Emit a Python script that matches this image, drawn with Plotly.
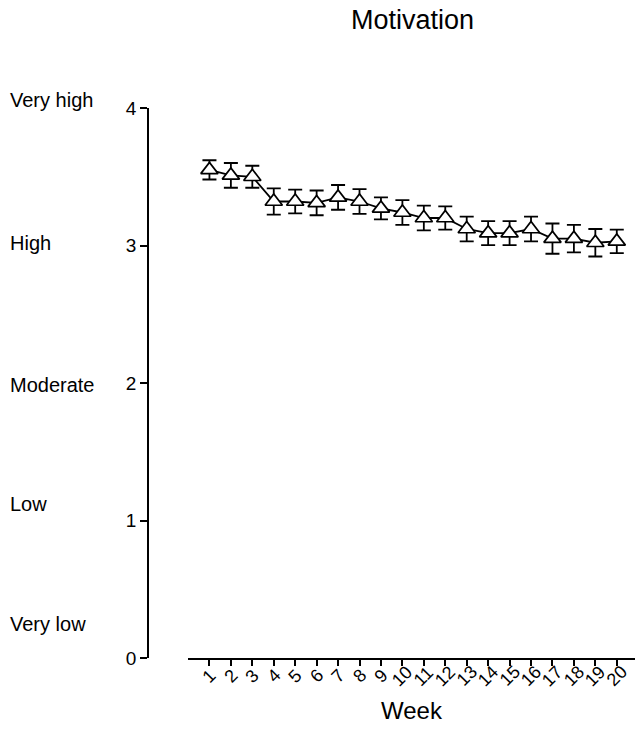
import plotly.graph_objects as go

weeks = list(range(1, 21))
week_labels = [str(w) for w in weeks]
motivation = [3.55, 3.51, 3.50, 3.32, 3.32, 3.31, 3.35, 3.32, 3.27, 3.24,
              3.20, 3.20, 3.12, 3.09, 3.09, 3.12, 3.05, 3.05, 3.02, 3.03]
errors = [0.07, 0.09, 0.08, 0.095, 0.087, 0.09, 0.09, 0.09, 0.08, 0.09,
          0.09, 0.085, 0.09, 0.087, 0.087, 0.09, 0.11, 0.10, 0.10, 0.085]
level_names = ["Very high", "High", "Moderate", "Low", "Very low"]
y_ticks = [0, 1, 2, 3, 4]

FONT = "Liberation Sans, Arial, sans-serif"
W, H = 635, 747
L, R, T, B = 148, 0, 108, 89
PW, PH = W - L - R, H - T - B

# vertical pixel centres of the descriptive labels (layout only)
label_px = [100, 243, 385, 504, 624]

fig = go.Figure()
fig.add_trace(go.Scatter(
    x=weeks, y=motivation,
    mode="lines+markers",
    line=dict(color="black", width=1.8),
    marker=dict(symbol="triangle-up", size=15, color="white",
                line=dict(width=1.7, color="black")),
    error_y=dict(type="data", array=errors, visible=True,
                 color="black", thickness=1.8, width=7),
    showlegend=False,
))

for name, py in zip(level_names, label_px):
    fig.add_annotation(text=name, xref="paper", yref="paper",
                       x=(8 - L) / PW, y=(H - B - py) / PH,
                       xanchor="left", yanchor="middle",
                       showarrow=False, font=dict(family=FONT, size=20, color="black"))

# rotated week labels centred under their ticks
for wk, lab in zip(weeks, week_labels):
    fig.add_annotation(text=lab, xref="x", yref="paper",
                       x=wk, y=(H - B - 676) / PH,
                       xanchor="center", yanchor="middle", textangle=-45,
                       showarrow=False, font=dict(family=FONT, size=18, color="black"))

fig.add_annotation(text="Motivation", xref="paper", yref="paper",
                   x=(412 - L) / PW, y=(H - B - 20) / PH,
                   xanchor="center", yanchor="middle", showarrow=False,
                   font=dict(family=FONT, size=27, color="black"))
fig.add_annotation(text="Week", xref="paper", yref="paper",
                   x=(412 - L) / PW, y=(H - B - 710) / PH,
                   xanchor="center", yanchor="middle", showarrow=False,
                   font=dict(family=FONT, size=24, color="black"))

fig.update_layout(
    width=W, height=H,
    margin=dict(l=L, r=R, t=T, b=B),
    plot_bgcolor="white", paper_bgcolor="white",
    font=dict(family=FONT, color="black"),
    xaxis=dict(
        domain=[40 / PW, 1],
        range=[0, 20.85],
        automargin=False,
        tickmode="array", tickvals=weeks, showticklabels=False,
        ticks="outside", ticklen=6, tickwidth=1.5, tickcolor="black",
        showline=True, linecolor="black", linewidth=1.8,
        showgrid=False, zeroline=False,
    ),
    yaxis=dict(
        anchor="free", position=0,
        range=[0, 4],
        automargin=False,
        tickmode="array", tickvals=y_ticks,
        tickfont=dict(family=FONT, size=19, color="black"),
        ticks="outside", ticklen=7, tickwidth=1.5, tickcolor="black",
        showline=True, linecolor="black", linewidth=1.8,
        showgrid=False, zeroline=False,
    ),
)

fig.write_html("out.html", config={"displayModeBar": False},
               post_script="document.body.style.margin='0';")
